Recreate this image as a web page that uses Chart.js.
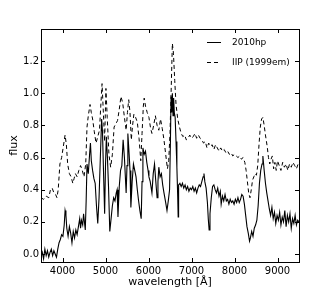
<!DOCTYPE html>
<html>
<head>
<meta charset="utf-8">
<script src="https://cdn.jsdelivr.net/npm/chart.js@4/dist/chart.umd.min.js"></script>
<style>
  html, body { margin: 0; padding: 0; background: #fff; }
  #wrap { width: 332px; height: 291px; }
</style>
</head>
<body>
<div id="wrap"><canvas id="myChart"></canvas></div>
<script>
// tick labels
var xTicks = [4000, 5000, 6000, 7000, 8000, 9000];
var yTicks = [0.0, 0.2, 0.4, 0.6, 0.8, 1.0, 1.2];

// SN 2010hp spectrum (solid)
var hpWave = [3500,3530,3560,3590,3620,3650,3680,3710,3740,3770,3800,3830,3860,3890,3920,3950,3980,4010,4040,4060,
  4080,4100,4130,4160,4190,4220,4250,4280,4310,4340,4370,4400,4420,4440,4470,4490,4510,4530,4550,4570,
  4600,4630,4650,4670,4700,4730,4760,4790,4820,4850,4880,4910,4930,4950,4980,5000,5020,5045,5070,5100,
  5130,5160,5190,5220,5250,5270,5290,5320,5350,5380,5410,5440,5480,5500,5520,5550,5570,5590,5620,5650,
  5680,5710,5740,5770,5800,5830,5850,5870,5900,5930,5960,5990,6010,6040,6080,6110,6140,6170,6200,6220,
  6240,6270,6300,6330,6360,6400,6430,6460,6490,6510,6525,6540,6555,6570,6585,6600,6620,6640,6660,6680,
  6690,6700,6730,6760,6790,6820,6850,6880,6910,6940,6970,7000,7030,7060,7090,7120,7150,7180,7210,7240,
  7270,7290,7310,7340,7370,7390,7410,7430,7460,7490,7520,7550,7580,7610,7640,7670,7690,7720,7750,7780,
  7810,7840,7870,7900,7930,7960,7990,8020,8050,8080,8110,8140,8170,8200,8230,8260,8290,8320,8350,8370,
  8400,8430,8460,8490,8520,8550,8580,8610,8640,8660,8690,8720,8750,8780,8810,8840,8870,8900,8930,8960,
  8990,9020,9050,9080,9110,9140,9170,9200,9230,9260,9290,9320,9350,9380,9410,9440,9470,9500];
var hpFlux = [-0.02,0.01,-0.03,0.03,-0.01,0.02,-0.02,0.01,0.03,-0.01,0.02,0.00,-0.02,0.03,0.07,0.09,0.12,0.11,0.18,0.27,
  0.24,0.16,0.11,0.17,0.13,0.07,0.14,0.10,0.15,0.12,0.17,0.22,0.16,0.21,0.18,0.25,0.20,0.15,0.33,0.56,
  0.50,0.62,0.69,0.58,0.52,0.47,0.44,0.30,0.19,0.35,0.60,0.84,0.76,0.55,0.25,0.55,0.73,0.60,0.42,0.14,
  0.22,0.30,0.35,0.33,0.38,0.40,0.23,0.42,0.52,0.55,0.71,0.60,0.38,0.55,0.75,0.62,0.52,0.29,0.45,0.56,
  0.52,0.48,0.40,0.33,0.27,0.22,0.45,0.66,0.62,0.64,0.57,0.52,0.48,0.45,0.38,0.50,0.56,0.45,0.35,0.45,
  0.54,0.48,0.50,0.43,0.38,0.32,0.27,0.33,0.40,0.70,0.98,0.88,1.00,0.86,0.97,0.88,0.85,0.70,0.54,0.35,
  0.23,0.43,0.44,0.42,0.44,0.41,0.43,0.40,0.42,0.39,0.41,0.40,0.42,0.39,0.41,0.38,0.41,0.43,0.42,0.45,
  0.48,0.50,0.45,0.41,0.32,0.22,0.15,0.25,0.35,0.42,0.43,0.40,0.38,0.41,0.36,0.39,0.31,0.36,0.33,0.37,
  0.33,0.34,0.31,0.34,0.32,0.33,0.31,0.34,0.32,0.35,0.32,0.34,0.37,0.36,0.31,0.24,0.17,0.13,0.08,0.10,
  0.14,0.11,0.16,0.18,0.21,0.30,0.44,0.52,0.56,0.61,0.52,0.44,0.38,0.33,0.28,0.24,0.29,0.22,0.26,0.19,
  0.24,0.21,0.26,0.18,0.23,0.20,0.27,0.17,0.24,0.20,0.25,0.16,0.22,0.19,0.24,0.18,0.21,0.20];

// SN IIP 1999em template (dashed)
var iipWave = [3500,3560,3620,3680,3720,3760,3800,3840,3870,3900,3940,3980,4020,4060,4090,4120,4160,4200,4240,4270,
  4300,4340,4380,4420,4460,4500,4540,4570,4600,4640,4670,4700,4740,4780,4820,4860,4890,4920,4950,4980,
  5010,5040,5080,5120,5160,5200,5240,5280,5320,5360,5400,5440,5480,5510,5540,5570,5600,5630,5660,5700,
  5740,5780,5820,5850,5880,5900,5930,5970,6010,6050,6080,6120,6160,6200,6240,6280,6320,6360,6400,6440,
  6470,6500,6530,6555,6580,6610,6640,6680,6720,6760,6800,6840,6880,6920,6960,7000,7040,7080,7120,7160,
  7200,7240,7280,7320,7360,7400,7440,7480,7520,7560,7600,7640,7680,7720,7760,7800,7840,7880,7920,7960,
  8000,8040,8080,8120,8160,8200,8240,8270,8300,8330,8360,8390,8420,8450,8480,8510,8540,8570,8600,8630,
  8660,8690,8720,8760,8790,8820,8850,8880,8910,8940,8970,9000,9040,9080,9120,9160,9200,9240,9280,9320,
  9360,9400,9440,9480,9500];
var iipFlux = [0.35,0.34,0.36,0.35,0.40,0.41,0.38,0.37,0.35,0.40,0.56,0.60,0.67,0.74,0.68,0.56,0.50,0.48,0.44,0.47,
  0.50,0.48,0.52,0.55,0.52,0.48,0.56,0.79,0.86,0.93,0.88,0.84,0.76,0.69,0.73,0.77,0.92,1.06,0.88,0.70,
  1.03,0.85,0.62,0.54,0.62,0.79,0.81,0.83,0.90,0.98,0.94,0.85,0.77,0.88,0.96,0.88,0.71,0.80,0.87,0.85,
  0.82,0.72,0.58,0.75,0.92,0.97,0.92,0.88,0.85,0.78,0.75,0.80,0.86,0.80,0.77,0.84,0.78,0.71,0.62,0.53,
  0.58,0.75,1.05,1.31,1.25,1.08,0.93,0.84,0.79,0.75,0.73,0.74,0.71,0.72,0.74,0.72,0.73,0.75,0.72,0.74,
  0.72,0.71,0.69,0.70,0.66,0.69,0.67,0.68,0.65,0.68,0.66,0.64,0.66,0.64,0.65,0.63,0.64,0.62,0.63,0.61,
  0.62,0.61,0.60,0.61,0.59,0.60,0.57,0.52,0.45,0.38,0.35,0.40,0.46,0.48,0.50,0.49,0.55,0.68,0.79,0.84,
  0.85,0.80,0.74,0.67,0.60,0.56,0.59,0.61,0.53,0.57,0.52,0.58,0.55,0.52,0.57,0.54,0.56,0.52,0.56,0.54,
  0.57,0.55,0.53,0.56,0.55];

function toPoints(xs, ys) {
  return xs.map(function (x, i) {
    return { x: x, y: ys[i] };
  });
}

var fontFamily = "'DejaVu Sans', sans-serif";

// inward ticks, frame and legend like matplotlib
var framePlugin = {
  id: 'frame',
  afterDraw: function (chart) {
    var ctx = chart.ctx;
    var a = chart.chartArea;
    var xs = chart.scales.x;
    var ys = chart.scales.y;
    var len = 4;
    ctx.save();
    ctx.strokeStyle = '#000';
    ctx.lineWidth = 1;
    ctx.beginPath();
    xTicks.forEach(function (v) {
      var px = Math.round(xs.getPixelForValue(v)) + 0.5;
      ctx.moveTo(px, a.bottom); ctx.lineTo(px, a.bottom - len);
      ctx.moveTo(px, a.top); ctx.lineTo(px, a.top + len);
    });
    yTicks.forEach(function (v) {
      var py = Math.round(ys.getPixelForValue(v)) + 0.5;
      ctx.moveTo(a.left, py); ctx.lineTo(a.left + len, py);
      ctx.moveTo(a.right, py); ctx.lineTo(a.right - len, py);
    });
    ctx.stroke();
    ctx.strokeRect(Math.round(a.left) + 0.5, Math.round(a.top) + 0.5,
      Math.round(a.right - a.left), Math.round(a.bottom - a.top));

    // legend
    ctx.font = '9px ' + fontFamily;
    ctx.fillStyle = '#000';
    ctx.textBaseline = 'middle';
    chart.data.datasets.forEach(function (ds, i) {
      var y = 42.5 + i * 20;
      ctx.beginPath();
      ctx.setLineDash(ds.borderDash || []);
      ctx.moveTo(207, y); ctx.lineTo(221, y);
      ctx.stroke();
      ctx.setLineDash([]);
      ctx.fillText(ds.label, 232, y);
    });
    ctx.restore();
  }
};

var ctx = document.getElementById("myChart");
var myChart = new Chart(ctx, {
  type: 'line',
  data: {
    datasets: [{
      label: '2010hp',
      data: toPoints(hpWave, hpFlux),
      borderColor: '#000',
      borderWidth: 1.1,
      pointRadius: 0,
      fill: false
    },
    {
      label: 'IIP (1999em)',
      data: toPoints(iipWave, iipFlux),
      borderColor: '#000',
      borderWidth: 1,
      borderDash: [4, 3],
      pointRadius: 0,
      fill: false
    }]
  },
  options: {
    responsive: true,
    maintainAspectRatio: false,
    animation: false,
    elements: { line: { tension: 0 } },
    layout: { padding: { top: 29, right: 33, left: 0, bottom: 0 } },
    plugins: {
      legend: { display: false },
      tooltip: { enabled: false }
    },
    scales: {
      x: {
        type: 'linear',
        min: 3500,
        max: 9500,
        grid: { display: false, drawTicks: false },
        border: { display: false },
        afterBuildTicks: function (scale) {
          scale.ticks = xTicks.map(function (v) { return { value: v }; });
        },
        afterFit: function (scale) { scale.height = 29; },
        ticks: {
          color: '#000',
          padding: 3,
          maxRotation: 0,
          autoSkip: false,
          font: { family: fontFamily, size: 10 },
          callback: function (v) { return String(v); }
        },
        title: {
          display: true,
          text: 'wavelength [Å]',
          color: '#000',
          font: { family: fontFamily, size: 11 },
          padding: { top: 0, bottom: 2 }
        }
      },
      y: {
        min: -0.05,
        max: 1.4,
        grid: { display: false, drawTicks: false },
        border: { display: false },
        afterBuildTicks: function (scale) {
          scale.ticks = yTicks.map(function (v) { return { value: v }; });
        },
        afterFit: function (scale) { scale.width = 41; },
        ticks: {
          color: '#000',
          padding: 2,
          autoSkip: false,
          font: { family: fontFamily, size: 10 },
          callback: function (v) { return v.toFixed(1); }
        },
        title: {
          display: true,
          text: 'flux',
          color: '#000',
          font: { family: fontFamily, size: 11 },
          padding: { top: 8, bottom: 0 }
        }
      }
    }
  },
  plugins: [framePlugin]
});
</script>
</body>
</html>
